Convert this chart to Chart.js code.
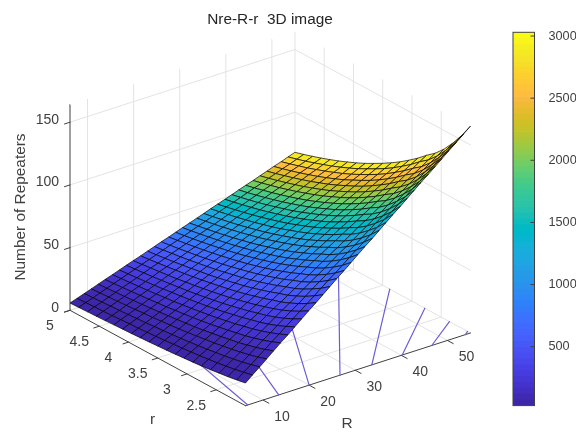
<!DOCTYPE html>
<html>
<head>
<meta charset="utf-8">
<script src="https://cdn.jsdelivr.net/npm/chart.js@4/dist/chart.umd.min.js"></script>
<style>
body {margin: 0; background: #fff;}
canvas {position: absolute; top: 0;}
#surf {left: 0;}
#cbar {left: 505px;}
</style>
</head>
<body>
<canvas id="surf" width="540" height="433"></canvas>
<canvas id="cbar" width="71" height="433"></canvas>
<script>
// values
const Rvals = [6.2,7.7,9.3,10.8,12.3,13.8,15.4,16.9,18.4,19.9,21.5,23,24.5,26,27.6,29.1,30.6,32.1,33.7,35.2,36.7,38.2,39.8,41.3,42.8,44.3,45.9,47.4,48.9,50.4,52,53.5,55];
const rvals = [2,2.15,2.3,2.45,2.6,2.75,2.9,3.05,3.2,3.35,3.5,3.65,3.8,3.95,4.1,4.25,4.4,4.55,4.7,4.85,5];
// colour value of each R column
const colorVals = [38,59,86,117,151,190,237,286,339,396,462,529,600,676,762,847,936,1030,1136,1239,1347,1459,1584,1706,1832,1962,2107,2247,2391,2540,2704,2862,3025];
// number of repeaters, one row per r, one column per R
const nre = [
[18.1,22.7,27.3,31.9,36.5,41.1,45.6,50.2,54.8,59.4,64,68.6,73.2,77.8,82.4,87,91.6,96.1,100.7,105.3,109.9,114.5,119.1,123.7,128.3,132.9,137.5,142,146.6,151.2,155.8,160.4,165],
[16.7,21,25.3,29.5,33.8,38.1,42.4,46.7,50.9,55.2,59.5,63.8,68.1,72.4,76.6,80.9,85.2,89.5,93.8,98,102.3,106.6,110.9,115.2,119.4,123.7,128,132.3,136.6,140.8,145.1,149.4,153.7],
[15.5,19.5,23.5,27.5,31.6,35.6,39.6,43.6,47.6,51.6,55.6,59.6,63.7,67.7,71.7,75.7,79.7,83.7,87.7,91.7,95.8,99.8,103.8,107.8,111.8,115.8,119.8,123.8,127.9,131.9,135.9,139.9,143.9],
[14.5,18.3,22.1,25.8,29.6,33.4,37.2,40.9,44.7,48.5,52.3,56,59.8,63.6,67.4,71.1,74.9,78.7,82.5,86.2,90,93.8,97.6,101.3,105.1,108.9,112.7,116.4,120.2,124,127.8,131.5,135.3],
[13.5,17.1,20.7,24.3,27.8,31.4,35,38.6,42.2,45.8,49.3,52.9,56.5,60.1,63.7,67.3,70.8,74.4,78,81.6,85.2,88.8,92.4,95.9,99.5,103.1,106.7,110.3,113.9,117.4,121,124.6,128.2],
[12.7,16.1,19.6,23,26.5,29.9,33.3,36.8,40.2,43.6,47.1,50.5,54,57.4,60.8,64.3,67.7,71.1,74.6,78,81.5,84.9,88.3,91.8,95.2,98.6,102.1,105.5,109,112.4,115.8,119.3,122.7],
[11.9,15.2,18.4,21.7,25,28.3,31.5,34.8,38.1,41.3,44.6,47.9,51.2,54.4,57.7,61,64.2,67.5,70.8,74.1,77.3,80.6,83.9,87.2,90.4,93.7,97,100.2,103.5,106.8,110.1,113.3,116.6],
[11.3,14.4,17.5,20.7,23.8,26.9,30,33.2,36.3,39.4,42.5,45.6,48.8,51.9,55,58.1,61.3,64.4,67.5,70.6,73.7,76.9,80,83.1,86.2,89.3,92.5,95.6,98.7,101.8,105,108.1,111.2],
[10.6,13.6,16.6,19.6,22.5,25.5,28.5,31.5,34.5,37.5,40.4,43.4,46.4,49.4,52.4,55.4,58.3,61.3,64.3,67.3,70.3,73.3,76.2,79.2,82.2,85.2,88.2,91.2,94.2,97.1,100.1,103.1,106.1],
[10,12.9,15.7,18.6,21.4,24.3,27.2,30,32.9,35.7,38.6,41.4,44.3,47.2,50,52.9,55.7,58.6,61.5,64.3,67.2,70,72.9,75.8,78.6,81.5,84.3,87.2,90,92.9,95.8,98.6,101.5],
[9.5,12.2,15,17.7,20.5,23.2,26,28.7,31.5,34.2,36.9,39.7,42.4,45.2,47.9,50.7,53.4,56.1,58.9,61.6,64.4,67.1,69.9,72.6,75.4,78.1,80.8,83.6,86.3,89.1,91.8,94.6,97.3],
[9,11.6,14.3,16.9,19.6,22.2,24.8,27.5,30.1,32.7,35.4,38,40.7,43.3,45.9,48.6,51.2,53.8,56.5,59.1,61.8,64.4,67,69.7,72.3,74.9,77.6,80.2,82.9,85.5,88.1,90.8,93.4],
[8.6,11.1,13.7,16.2,18.7,21.3,23.8,26.3,28.8,31.4,33.9,36.4,39,41.5,44,46.6,49.1,51.6,54.2,56.7,59.2,61.7,64.3,66.8,69.3,71.9,74.4,76.9,79.5,82,84.5,87.1,89.6],
[8.1,10.5,13,15.4,17.9,20.3,22.7,25.2,27.6,30.1,32.5,34.9,37.4,39.8,42.3,44.7,47.2,49.6,52,54.5,56.9,59.4,61.8,64.2,66.7,69.1,71.6,74,76.4,78.9,81.3,83.8,86.2],
[7.8,10.2,12.5,14.9,17.2,19.6,21.9,24.3,26.6,29,31.3,33.7,36,38.4,40.7,43.1,45.4,47.8,50.2,52.5,54.9,57.2,59.6,61.9,64.3,66.6,69,71.3,73.7,76,78.4,80.7,83.1],
[7.4,9.7,11.9,14.2,16.5,18.8,21,23.3,25.6,27.8,30.1,32.4,34.7,36.9,39.2,41.5,43.8,46,48.3,50.6,52.8,55.1,57.4,59.7,61.9,64.2,66.5,68.7,71,73.3,75.6,77.8,80.1],
[7,9.2,11.4,13.6,15.8,18,20.2,22.4,24.6,26.8,29,31.2,33.4,35.6,37.8,40,42.2,44.4,46.6,48.8,51,53.2,55.4,57.6,59.8,62,64.2,66.4,68.6,70.8,73,75.2,77.4],
[6.7,8.8,11,13.1,15.2,17.3,19.5,21.6,23.7,25.9,28,30.1,32.2,34.4,36.5,38.6,40.8,42.9,45,47.1,49.3,51.4,53.5,55.6,57.8,59.9,62,64.2,66.3,68.4,70.5,72.7,74.8],
[6.4,8.5,10.5,12.6,14.7,16.7,18.8,20.8,22.9,25,27,29.1,31.2,33.2,35.3,37.3,39.4,41.5,43.5,45.6,47.7,49.7,51.8,53.8,55.9,58,60,62.1,64.2,66.2,68.3,70.3,72.4],
[6.1,8.1,10.1,12.1,14.1,16.1,18.1,20.1,22.1,24.1,26.1,28.1,30.1,32.1,34.1,36.1,38.1,40.1,42.1,44.1,46.1,48.1,50.1,52.1,54.1,56.1,58.1,60.1,62.1,64.1,66.1,68.1,70.1],
[5.8,7.7,9.7,11.6,13.6,15.5,17.5,19.4,21.4,23.3,25.2,27.2,29.1,31.1,33,35,36.9,38.8,40.8,42.7,44.7,46.6,48.6,50.5,52.5,54.4,56.3,58.3,60.2,62.2,64.1,66.1,68]
];
// floor contours: where each one leaves the r=2 edge and where it ends
const contourStartR = [6.7,13.4,20,26.7,33.6,40.2,46.6,53.9];
const contourEndR = [16.7,32.4,49,55,55,55,55,55];
const contourEndr = [5,5,5,4.26,3.38,2.78,2.36,2.05];

const Rticks = [10,20,30,40,50];
const rticks = [2.5,3,3.5,4,4.5,5];
const zticks = [0,50,100,150];
const barTicks = [500,1000,1500,2000,2500,3000];

const Rmin = 6.2, Rmax = 55, rmin = 2, rmax = 5, zmax = 164;
const barMin = 26, barMax = 3030;

// parula, 64 levels
const parula = [[.2422,.1504,.6603],[.2504,.165,.7076],[.2578,.1818,.7511],[.2647,.1978,.7952],[.2706,.2147,.8364],[.2751,.2342,.871],[.2783,.2559,.8991],[.2803,.2782,.9221],[.2813,.3006,.9414],[.281,.3228,.9579],[.2795,.3447,.9717],[.276,.3667,.9829],[.2699,.3892,.9906],[.2602,.4123,.9952],[.244,.4358,.9988],[.2206,.4603,.9973],[.1963,.4847,.9892],[.1834,.5074,.9798],[.1786,.5289,.9682],[.1764,.5499,.952],[.1687,.5703,.9359],[.154,.5902,.9218],[.146,.6091,.9079],[.138,.6276,.8973],[.1248,.6459,.8883],[.1113,.6635,.8763],[.0952,.6798,.8598],[.0689,.6948,.8394],[.0297,.7082,.8163],[.0036,.7197,.7917],[.0067,.73,.766],[.0433,.7394,.7394],[.0964,.75,.712],[.1408,.7584,.6842],[.1717,.767,.6554],[.1938,.7758,.6251],[.2161,.7843,.5923],[.247,.7918,.5567],[.2906,.7973,.5188],[.3406,.8008,.4789],[.3909,.8029,.4354],[.4456,.8024,.3909],[.5044,.7993,.348],[.5616,.7942,.3045],[.6174,.7876,.2612],[.672,.7793,.2227],[.7242,.7698,.191],[.7738,.7598,.1646],[.8203,.7498,.1535],[.8634,.7406,.1596],[.9035,.733,.1774],[.9393,.7288,.21],[.9728,.7298,.2394],[.9956,.7434,.2371],[.997,.7659,.2199],[.9952,.7893,.2028],[.9892,.8136,.1885],[.9786,.8386,.1766],[.9676,.8639,.1643],[.961,.889,.1537],[.9597,.9135,.1423],[.9628,.9373,.1265],[.9691,.9606,.1064],[.9769,.9839,.0805]];

const FONT = '"Liberation Sans", Arial, sans-serif';
const TEXT = '#404040';
const GRID = '#e3e3e3';

function rgb(c) {
    return 'rgb(' + c.map(v => Math.round(v * 255)).join(',') + ')';
}
function colorOf(v) {
    let i = Math.floor((v - barMin) / (barMax - barMin) * 64);
    return rgb(parula[Math.max(0, Math.min(63, i))]);
}

// fixed view of the 3D box, no perspective
function proj(R, r, z) {
    return {
        x: 70 + (R - Rmin) * 4.61 + (rmax - r) * 58.5,
        y: 310.3 - (R - Rmin) * 1.49 + (rmax - r) * 31.8 - z * 1.254
    };
}
function seg(points, color, width) {
    return {
        data: points.map(p => proj(p[0], p[1], p[2])),
        showLine: true, borderColor: color, borderWidth: width,
        pointRadius: 0, fill: false, tension: 0, clip: false, borderCapStyle: 'round'
    };
}

// first dataset is painted last, so the near cells come first
let sets = [];
for (let i = 0; i < rvals.length - 1; i++) {
    for (let j = 0; j < Rvals.length - 1; j++) {
        sets.push({
            data: [
                proj(Rvals[j], rvals[i], nre[i][j]),
                proj(Rvals[j + 1], rvals[i], nre[i][j + 1]),
                proj(Rvals[j + 1], rvals[i + 1], nre[i + 1][j + 1]),
                proj(Rvals[j], rvals[i + 1], nre[i + 1][j]),
                proj(Rvals[j], rvals[i], nre[i][j])
            ],
            showLine: true, fill: 'shape', backgroundColor: colorOf(colorVals[j]),
            borderColor: 'rgba(0,0,0,0.85)', borderWidth: 0.8,
            pointRadius: 0, tension: 0, clip: false
        });
    }
}

// contours
contourStartR.forEach((R0, k) => {
    sets.push(seg([[R0, rmin, 0], [contourEndR[k], contourEndr[k], 0]], '#6a5ed6', 1.2));
});

// axes and tick marks
sets.push(seg([[Rmin, rmax, 0], [Rmin, rmax, zmax]], TEXT, 1));
sets.push(seg([[Rmin, rmax, 0], [Rmin, rmin, 0]], TEXT, 1));
sets.push(seg([[Rmin, rmin, 0], [Rmax, rmin, 0]], TEXT, 1));
Rticks.forEach(R => sets.push(seg([[R, rmin, 0], [R, rmin - 0.1, 0]], TEXT, 1)));
rticks.forEach(r => sets.push(seg([[Rmin, r, 0], [Rmin - 1.2, r, 0]], TEXT, 1)));
zticks.forEach(z => sets.push(seg([[Rmin, rmax, z], [Rmin - 1.2, rmax, z]], TEXT, 1)));

// grid on the floor and the two back walls
Rticks.forEach(R => {
    sets.push(seg([[R, rmin, 0], [R, rmax, 0]], GRID, 1));
    sets.push(seg([[R, rmax, 0], [R, rmax, zmax]], GRID, 1));
});
rticks.forEach(r => {
    sets.push(seg([[Rmin, r, 0], [Rmax, r, 0]], GRID, 1));
    sets.push(seg([[Rmax, r, 0], [Rmax, r, zmax]], GRID, 1));
});
zticks.forEach(z => {
    sets.push(seg([[Rmin, rmax, z], [Rmax, rmax, z]], GRID, 1));
    sets.push(seg([[Rmax, rmax, z], [Rmax, rmin, z]], GRID, 1));
});

const boxText = {
    id: 'boxText',
    afterDraw(chart) {
        const ctx = chart.ctx, sx = chart.scales.x, sy = chart.scales.y;
        function put(txt, p, dx, dy, align) {
            ctx.textAlign = align || 'center';
            ctx.fillText(txt, sx.getPixelForValue(p.x) + dx, sy.getPixelForValue(p.y) + dy);
        }
        ctx.save();
        ctx.fillStyle = TEXT;
        ctx.textBaseline = 'middle';
        ctx.font = '14px ' + FONT;
        Rticks.forEach(R => put(String(R), proj(R, rmin, 0), 19, 17));
        rticks.forEach(r => put(String(r), proj(Rmin, r, 0), -20, 16));
        zticks.forEach(z => put(String(z), proj(Rmin, rmax, z), -11, -2.5, 'right'));
        ctx.font = '15.4px ' + FONT;
        put('R', proj(30.5, rmin, 0), -10.5, 54);
        put('r', proj(Rmin, 3.4, 0), -11, 59);
        ctx.translate(21, 207);
        ctx.rotate(-Math.PI / 2);
        ctx.textAlign = 'center';
        ctx.fillText('Number of Repeaters', 0, 0);
        ctx.restore();
    }
};

new Chart(document.getElementById('surf'), {
    type: 'scatter',
    data: {datasets: sets},
    plugins: [boxText],
    options: {
        responsive: false,
        animation: false,
        events: [],
        scales: {
            x: {type: 'linear', min: 0, max: 540, display: false},
            y: {type: 'linear', min: 32, max: 433, reverse: true, display: false}
        },
        plugins: {
            legend: {display: false},
            tooltip: {enabled: false},
            title: {
                display: true,
                text: 'Nre-R-r  3D image',
                color: '#262626',
                font: {family: FONT, size: 15.4, weight: 'normal', lineHeight: 1.2},
                padding: {top: 11, bottom: 2.52}
            }
        }
    }
});

// colorbar
const barSets = parula.map((c, i) => ({
    data: [[barMin + (barMax - barMin) * i / 64, barMin + (barMax - barMin) * (i + 1) / 64]],
    backgroundColor: rgb(c),
    borderWidth: 0,
    barPercentage: 1,
    categoryPercentage: 1,
    grouped: false
}));

const barFrame = {
    id: 'barFrame',
    afterDraw(chart) {
        const ctx = chart.ctx, a = chart.chartArea, sc = chart.scales.y;
        ctx.save();
        ctx.strokeStyle = TEXT;
        ctx.lineWidth = 1;
        ctx.strokeRect(a.left, a.top, a.right - a.left, a.bottom - a.top);
        barTicks.forEach(v => {
            const y = sc.getPixelForValue(v);
            ctx.beginPath();
            ctx.moveTo(a.right, y);
            ctx.lineTo(a.right - 4, y);
            ctx.stroke();
        });
        ctx.restore();
    }
};

new Chart(document.getElementById('cbar'), {
    type: 'bar',
    data: {labels: ['c'], datasets: barSets},
    plugins: [barFrame],
    options: {
        responsive: false,
        animation: false,
        events: [],
        layout: {padding: {left: 8, top: 32.3, bottom: 27.4}},
        scales: {
            x: {display: false},
            y: {
                position: 'right', min: barMin, max: barMax,
                grid: {display: false},
                border: {display: false},
                afterBuildTicks(scale) { scale.ticks = barTicks.map(v => ({value: v})); },
                afterFit(scale) { scale.width = 41.5; },
                ticks: {
                    color: TEXT, padding: 6, font: {family: FONT, size: 12.7},
                    callback: v => String(v)
                }
            }
        },
        plugins: {legend: {display: false}, tooltip: {enabled: false}}
    }
});
</script>
</body>
</html>
